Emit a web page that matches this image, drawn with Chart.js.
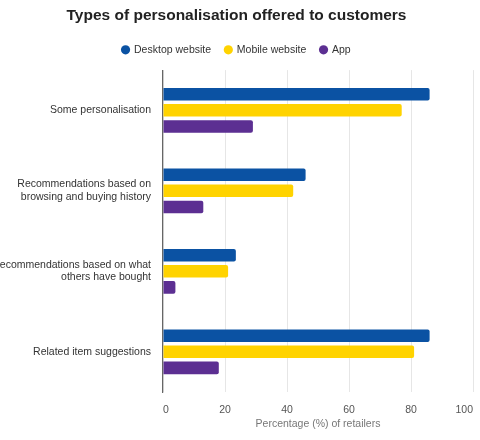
<!DOCTYPE html>
<html>
<head>
<meta charset="utf-8">
<script src="https://cdn.jsdelivr.net/npm/chart.js@4"></script>
<style>
  html, body { margin: 0; padding: 0; background: #fff; }
  #wrap { width: 480px; height: 440px; }
</style>
</head>
<body>
<div id="wrap"><canvas id="chart"></canvas></div>
<script>
const categories = [
  "Some personalisation",
  ["Recommendations based on", "browsing and buying history"],
  ["Recommendations based on what", "others have bought"],
  "Related item suggestions"
]
const desktop = [86, 46, 23.5, 86]
const mobile = [77, 42, 21, 81]
const app = [29, 13, 4, 18]
const xTicks = [0, 20, 40, 60, 80, 100]

const colors = { desktop: "#0b52a3", mobile: "#ffd300", app: "#5c2f92" }

function dataset(label, data, color) {
  return {
    label: label,
    data: data,
    backgroundColor: color,
    borderRadius: 2,
    borderSkipped: "start",
    barPercentage: 0.78,
    categoryPercentage: 0.6
  }
}

Chart.defaults.font.family = "'Liberation Sans', Arial, sans-serif"
Chart.defaults.color = "#333"

new Chart(document.getElementById("chart"), {
  type: "bar",
  data: {
    labels: categories,
    datasets: [
      dataset("Desktop website", desktop, colors.desktop),
      dataset("Mobile website", mobile, colors.mobile),
      dataset("App", app, colors.app)
    ]
  },
  options: {
    indexAxis: "y",
    responsive: true,
    maintainAspectRatio: false,
    animation: false,
    layout: { padding: { top: 0, right: 7, left: 0, bottom: 10 } },
    plugins: {
      title: {
        display: true,
        text: "Types of personalisation offered to customers",
        color: "#222",
        font: { size: 15.5, weight: "bold" },
        padding: { top: 6, bottom: 6 }
      },
      legend: {
        labels: {
          usePointStyle: true,
          pointStyle: "circle",
          boxWidth: 6.5,
          boxHeight: 6.5,
          color: "#333",
          font: { size: 10.5 },
          padding: 14
        }
      },
      tooltip: { enabled: false }
    },
    scales: {
      x: {
        min: 0,
        max: 100,
        afterBuildTicks: function(scale) {
          scale.ticks = xTicks.map(function(v) { return { value: v } })
        },
        grid: { color: "#e6e6e6", drawTicks: false },
        border: { display: false },
        ticks: { color: "#555", font: { size: 10.5 }, padding: 12, align: "inner" },
        title: {
          display: true,
          text: "Percentage (%) of retailers",
          color: "#777",
          font: { size: 10.5 },
          padding: { top: 1, bottom: 0 }
        },
        afterFit: function(scale) {
          scale.height = 38
          scale.paddingRight = 0
          scale.paddingLeft = 0
        }
      },
      // empty top axis, only used as a spacer under the legend
      gap: {
        type: "linear",
        position: "top",
        grid: { display: false },
        border: { display: false },
        ticks: { display: false },
        afterFit: function(scale) {
          scale.height = 5
          scale.paddingRight = 0
          scale.paddingLeft = 0
        }
      },
      y: {
        grid: { display: false, drawTicks: false },
        border: { display: true, color: "#666", width: 1.2 },
        ticks: { color: "#333", font: { size: 10.5 }, padding: 12 },
        afterFit: function(scale) { scale.width = 163 }
      }
    }
  }
})
</script>
</body>
</html>
